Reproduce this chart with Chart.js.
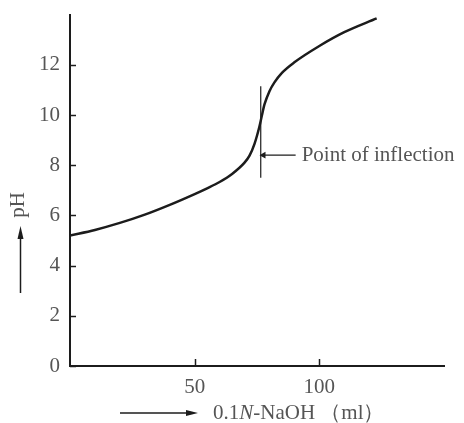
<!DOCTYPE html>
<html>
<head>
<meta charset="utf-8">
<script src="https://cdn.jsdelivr.net/npm/chart.js@4/dist/chart.umd.min.js"></script>
<style>
  html, body { margin: 0; padding: 0; background: #fff; }
  #wrap { width: 464px; height: 423px; }
</style>
</head>
<body>
<div id="wrap"><canvas id="chart" width="464" height="423"></canvas></div>
<script>
// titration curve
const mlValues = [0, 10, 20, 30, 40, 50, 55, 60, 65, 70, 72, 74, 76, 77, 78, 80, 82, 85, 90, 100, 110, 123];
const phValues = [5.2, 5.42, 5.7, 6.03, 6.42, 6.85, 7.08, 7.33, 7.65, 8.1, 8.38, 8.85, 9.55, 10.0, 10.42, 10.95, 11.3, 11.68, 12.1, 12.75, 13.3, 13.85];

// vertical mark at the point of inflection
const inflectionMl = [76.5, 76.5];
const inflectionPh = [7.5, 11.15];

// small arrow pointing at the mark
const pointerMl = [90.5, 77.6];
const pointerPh = [8.4, 8.4];
const pointerLabel = 'Point of inflection';

const xTicks = [50, 100];
const yTicks = [0, 2, 4, 6, 8, 10, 12];

const ink = '#1c1c1c';
const grey = '#555';
const serif = '"Liberation Serif", "DejaVu Serif", serif';
const fontSize = 21;

const toPoints = (xs, ys) => xs.map((x, i) => ({ x: x, y: ys[i] }));

const extras = {
  id: 'extras',
  afterDraw(chart) {
    const ctx = chart.ctx;
    const xs = chart.scales.x;
    const ys = chart.scales.y;
    const area = chart.chartArea;
    ctx.save();
    ctx.strokeStyle = ink;
    ctx.lineWidth = 1.5;
    // inward tick marks
    yTicks.forEach(v => {
      const py = Math.round(ys.getPixelForValue(v)) + 0.5;
      ctx.beginPath();
      ctx.moveTo(area.left, py);
      ctx.lineTo(area.left + 6, py);
      ctx.stroke();
    });
    xTicks.forEach(v => {
      const px = Math.round(xs.getPixelForValue(v)) + 0.5;
      ctx.beginPath();
      ctx.moveTo(px, area.bottom);
      ctx.lineTo(px, area.bottom - 7);
      ctx.stroke();
    });

    // label next to the pointer arrow
    ctx.fillStyle = grey;
    ctx.font = fontSize + 'px ' + serif;
    ctx.textBaseline = 'middle';
    ctx.textAlign = 'left';
    ctx.fillText(pointerLabel, xs.getPixelForValue(pointerMl[0]) + 6, ys.getPixelForValue(pointerPh[0]));

    // x axis title with arrow
    const ty = 413;
    ctx.strokeStyle = ink;
    ctx.lineWidth = 1.5;
    ctx.beginPath();
    ctx.moveTo(120, ty);
    ctx.lineTo(190, ty);
    ctx.stroke();
    ctx.fillStyle = ink;
    ctx.beginPath();
    ctx.moveTo(198, ty);
    ctx.lineTo(186, ty - 3);
    ctx.lineTo(186, ty + 3);
    ctx.closePath();
    ctx.fill();

    ctx.fillStyle = grey;
    let tx = 213;
    const parts = [
      ['0.1', fontSize + 'px ' + serif],
      ['N', 'italic ' + fontSize + 'px ' + serif],
      ['-NaOH\u00a0（ml）', fontSize + 'px ' + serif]
    ];
    parts.forEach(p => {
      ctx.font = p[1];
      ctx.fillText(p[0], tx, ty);
      tx += ctx.measureText(p[0]).width;
    });

    // y axis title with arrow
    ctx.strokeStyle = ink;
    ctx.beginPath();
    ctx.moveTo(20.5, 293);
    ctx.lineTo(20.5, 235);
    ctx.stroke();
    ctx.fillStyle = ink;
    ctx.beginPath();
    ctx.moveTo(20.5, 226);
    ctx.lineTo(17.5, 239);
    ctx.lineTo(23.5, 239);
    ctx.closePath();
    ctx.fill();

    ctx.save();
    ctx.translate(18, 205);
    ctx.rotate(-Math.PI / 2);
    ctx.fillStyle = grey;
    ctx.font = fontSize + 'px ' + serif;
    ctx.textAlign = 'center';
    ctx.textBaseline = 'middle';
    ctx.fillText('pH', 0, 0);
    ctx.restore();

    ctx.restore();
  }
};

new Chart(document.getElementById('chart'), {
  type: 'line',
  data: {
    datasets: [
      {
        data: toPoints(mlValues, phValues),
        borderColor: ink,
        borderWidth: 2.5,
        pointRadius: 0,
        cubicInterpolationMode: 'monotone',
        fill: false
      },
      {
        data: toPoints(inflectionMl, inflectionPh),
        borderColor: ink,
        borderWidth: 1.2,
        pointRadius: 0,
        fill: false
      },
      {
        data: toPoints(pointerMl, pointerPh),
        borderColor: ink,
        borderWidth: 1.2,
        pointRadius: [0, 4],
        pointStyle: 'triangle',
        rotation: -90,
        pointBackgroundColor: ink,
        pointBorderColor: ink,
        pointBorderWidth: 0,
        fill: false
      }
    ]
  },
  options: {
    responsive: false,
    animation: false,
    events: [],
    layout: { padding: { top: 10, right: 20, left: 0, bottom: 0 } },
    plugins: {
      legend: { display: false },
      tooltip: { enabled: false }
    },
    scales: {
      x: {
        type: 'linear',
        min: 0,
        max: 150,
        grid: { display: false },
        border: { display: true, color: ink, width: 2 },
        afterBuildTicks: s => { s.ticks = xTicks.map(v => ({ value: v })); },
        afterFit: s => { s.height = 57; },
        ticks: {
          color: grey,
          padding: 1,
          maxRotation: 0,
          font: { family: serif, size: fontSize }
        }
      },
      y: {
        min: 0,
        max: 14,
        grid: { display: false },
        border: { display: true, color: ink, width: 2 },
        afterBuildTicks: s => { s.ticks = yTicks.map(v => ({ value: v })); },
        afterFit: s => { s.width = 70; },
        ticks: {
          color: grey,
          padding: 2,
          font: { family: serif, size: fontSize }
        }
      }
    }
  },
  plugins: [extras]
});
</script>
</body>
</html>
